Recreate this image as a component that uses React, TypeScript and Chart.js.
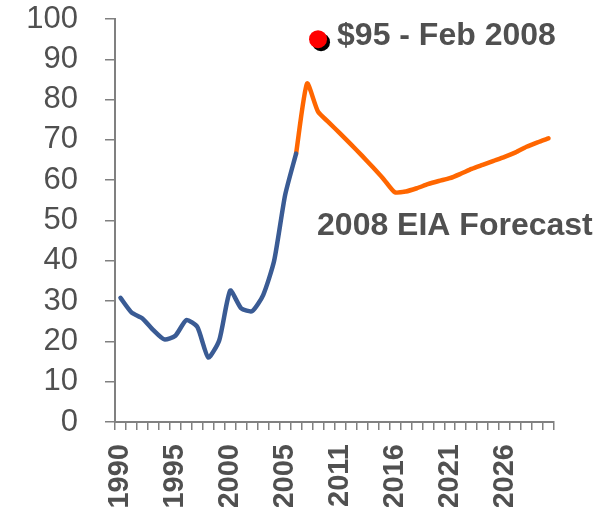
import React, { useEffect, useRef } from "react";
import { Chart, registerables } from "chart.js";

Chart.register(...registerables);

const years: string[] = [
  "1990", "1991", "1992", "1993", "1994", "1995", "1996", "1997", "1998", "1999",
  "2000", "2001", "2002", "2003", "2004", "2005", "2006", "2007", "2008", "2009",
  "2011", "2012", "2013", "2014", "2015", "2016", "2017", "2018", "2019", "2020",
  "2021", "2022", "2023", "2024", "2025", "2026", "2027", "2028", "2029", "2030",
];

const historical: (number | null)[] = [
  30.8, 27.2, 25.7, 22.8, 20.5, 21.4, 25.3, 23.6, 16.0, 20.3,
  32.6, 28.2, 27.5, 31.5, 40.0, 56.3, 66.6,
];

const forecast: (number | null)[] = [
  null, null, null, null, null, null, null, null, null, null,
  null, null, null, null, null, null, 66.6, 84.0, 77.0, 74.3,
  71.6, 68.9, 66.1, 63.2, 60.2, 57.0, 57.2, 58.0, 59.0, 59.8,
  60.5, 61.6, 62.8, 63.8, 64.8, 65.8, 66.9, 68.3, 69.4, 70.4,
];

const spotIndex = 18;
const spotValue = 95;
const spotLabel = "$95 - Feb 2008";
const forecastLabel = "2008 EIA Forecast";

const TEXT = "#505050";
const AXIS = "#808080";
const FONT = "'Liberation Sans', Arial, sans-serif";

export default function App() {
  const ref = useRef<HTMLCanvasElement | null>(null);

  useEffect(() => {
    if (!ref.current) return;
    const spot: (number | null)[] = years.map((_, i) => (i === spotIndex ? spotValue : null));

    const shadowPlugin = {
      id: "shadowDot",
      beforeDatasetDraw(chart: any, args: any) {
        if (args.index === 2) {
          const c = chart.ctx;
          c.save();
          c.shadowColor = "#000000";
          c.shadowOffsetX = 3;
          c.shadowOffsetY = 3;
          c.shadowBlur = 0;
        }
      },
      afterDatasetDraw(chart: any, args: any) {
        if (args.index === 2) chart.ctx.restore();
      },
    };

    const textPlugin = {
      id: "texts",
      afterDraw(chart: any) {
        const c = chart.ctx;
        const xs = chart.scales.x;
        const ys = chart.scales.y;
        c.save();
        c.fillStyle = TEXT;
        c.font = `bold 32px ${FONT}`;
        c.textBaseline = "middle";
        c.textAlign = "left";
        c.fillText(spotLabel, xs.getPixelForValue(spotIndex) + 19, ys.getPixelForValue(spotValue) - 3);
        c.fillText(forecastLabel, xs.getPixelForValue(spotIndex) - 1, ys.getPixelForValue(48.7));
        c.restore();
      },
    };

    const chart = new Chart(ref.current, {
      type: "line",
      data: {
        labels: years,
        datasets: [
          {
            data: historical,
            borderColor: "#3A5B94",
            borderWidth: 4.5,
            pointRadius: 0,
            tension: 0.2,
            borderCapStyle: "round",
            borderJoinStyle: "round",
          },
          {
            data: forecast,
            borderColor: "#FF6600",
            borderWidth: 4.5,
            pointRadius: 0,
            tension: 0.2,
            borderCapStyle: "round",
            borderJoinStyle: "round",
          },
          {
            data: spot,
            showLine: false,
            pointRadius: 9,
            pointBackgroundColor: "#FF0000",
            pointBorderWidth: 0,
            borderColor: "#FF0000",
          },
        ],
      },
      options: {
        animation: false,
        responsive: true,
        maintainAspectRatio: false,
        layout: { padding: { top: 19, right: 56, bottom: 0, left: 0 } },
        plugins: { legend: { display: false }, tooltip: { enabled: false } },
        scales: {
          x: {
            offset: true,
            grid: {
              offset: true,
              drawOnChartArea: false,
              drawTicks: true,
              tickLength: 8,
              color: AXIS,
              lineWidth: 1.5,
            },
            border: { display: true, color: AXIS, width: 2 },
            ticks: {
              autoSkip: false,
              minRotation: 90,
              maxRotation: 90,
              padding: 14,
              color: TEXT,
              font: { family: FONT, size: 29, weight: "bold" },
              callback: (_v: any, i: number) => (i % 5 === 0 ? years[i] : ""),
            },
            afterFit: (s: any) => {
              s.height = 85;
              s.paddingLeft = 0;
              s.paddingRight = 0;
            },
          },
          y: {
            min: 0,
            max: 100,
            grid: {
              drawOnChartArea: false,
              drawTicks: true,
              tickLength: 10,
              color: AXIS,
              lineWidth: 1.5,
            },
            border: { display: true, color: AXIS, width: 2 },
            ticks: {
              autoSkip: false,
              stepSize: 10,
              padding: 27,
              color: TEXT,
              font: { family: FONT, size: 31 },
            },
            afterFit: (s: any) => {
              s.width = 115;
              s.paddingTop = 0;
              s.paddingBottom = 0;
            },
          },
        },
      },
      plugins: [shadowPlugin, textPlugin],
    } as any);

    return () => chart.destroy();
  }, []);

  return (
    <div style={{ position: "fixed", left: 0, top: 0, width: 610, height: 507, background: "#fff" }}>
      <canvas ref={ref} />
    </div>
  );
}
